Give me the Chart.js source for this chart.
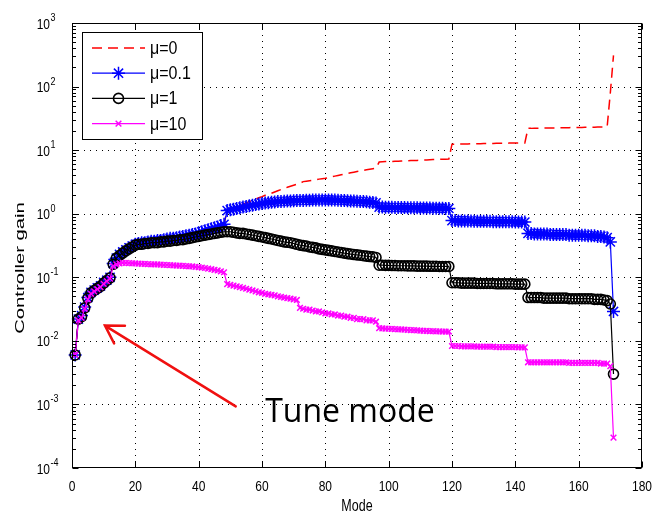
<!DOCTYPE html>
<html>
<head>
<meta charset="utf-8">
<script src="https://cdn.jsdelivr.net/npm/chart.js@4/dist/chart.umd.min.js"></script>
<style>
  html, body { margin: 0; padding: 0; background: #fff; }
</style>
</head>
<body>
<canvas id="gainChart" width="654" height="513"></canvas>
<script>
// controller gain per mode (mode 1..171) for each weighting mu
const gainMu0 = [
  0.006, 0.022, 0.025, 0.034, 0.048, 0.058, 0.063, 0.068, 0.073, 0.083, 0.09, 0.1,
  0.165, 0.2, 0.23, 0.25, 0.27, 0.29, 0.31, 0.33,
  0.34, 0.35, 0.35, 0.36, 0.37, 0.37, 0.38, 0.38, 0.39, 0.40,
  0.41, 0.41, 0.42, 0.43, 0.44, 0.45, 0.46, 0.47, 0.48, 0.50,
  0.52, 0.54, 0.56, 0.58, 0.60, 0.62, 0.65, 0.68,
  1.15, 1.2, 1.25, 1.3, 1.36, 1.42, 1.48, 1.55, 1.62, 1.7, 1.78, 1.86,
  1.95, 2.0, 2.1, 2.2, 2.3, 2.4, 2.5, 2.6, 2.7, 2.8,
  2.9, 3.0, 3.2, 3.25, 3.3, 3.35, 3.4, 3.5, 3.55, 3.6,
  3.7, 3.8, 3.9, 4.0, 4.1, 4.2, 4.3, 4.4, 4.5, 4.6,
  4.7, 4.8, 4.9, 5.0, 5.1, 5.2,
  6.5, 6.55, 6.6, 6.6, 6.65, 6.7, 6.7, 6.75, 6.8, 6.8, 6.85, 6.9, 6.9, 6.95, 7.0, 7.0, 7.05, 7.1, 7.1, 7.15, 7.2, 7.2, 7.25,
  12.4, 12.4, 12.5, 12.5, 12.5, 12.5, 12.6, 12.6, 12.6, 12.6, 12.7, 12.7, 12.7, 12.7, 12.8, 12.8, 12.8, 12.8, 12.9, 12.9, 12.9, 12.9, 13.0, 13.0,
  22.0, 22.0, 22.1, 22.1, 22.2, 22.2, 22.3, 22.3, 22.4, 22.4, 22.5, 22.5, 22.6, 22.6, 22.7, 22.7, 22.8, 22.8, 22.9, 22.9, 23.0, 23.0, 23.1, 23.1, 23.2, 23.3,
  80, 310
];
const gainMu01 = [
  0.006, 0.022, 0.025, 0.034, 0.048, 0.058, 0.063, 0.068, 0.073, 0.083, 0.09, 0.1,
  0.165, 0.2, 0.23, 0.25, 0.27, 0.29, 0.31, 0.33,
  0.34, 0.35, 0.35, 0.36, 0.37, 0.37, 0.38, 0.38, 0.39, 0.40,
  0.41, 0.41, 0.42, 0.43, 0.44, 0.45, 0.46, 0.47, 0.48, 0.50,
  0.52, 0.54, 0.56, 0.58, 0.60, 0.62, 0.65, 0.68,
  1.12, 1.15, 1.18, 1.21, 1.24, 1.27, 1.30, 1.33, 1.36, 1.39, 1.42, 1.45,
  1.47, 1.49, 1.51, 1.53, 1.55, 1.56, 1.57, 1.58, 1.59, 1.60,
  1.61, 1.62, 1.62, 1.63, 1.63, 1.64, 1.64, 1.65, 1.65, 1.65,
  1.65, 1.64, 1.64, 1.63, 1.62, 1.61, 1.60, 1.59, 1.58, 1.57,
  1.56, 1.55, 1.54, 1.52, 1.50, 1.48,
  1.27, 1.27, 1.26, 1.26, 1.26, 1.25, 1.25, 1.25, 1.25, 1.24, 1.24, 1.24, 1.24, 1.23, 1.23, 1.23, 1.23, 1.22, 1.22, 1.22, 1.22, 1.21, 1.21,
  0.78, 0.78, 0.77, 0.77, 0.77, 0.77, 0.77, 0.76, 0.76, 0.76, 0.76, 0.76, 0.76, 0.75, 0.75, 0.75, 0.75, 0.75, 0.75, 0.75, 0.74, 0.74, 0.74, 0.74,
  0.49, 0.49, 0.48, 0.48, 0.48, 0.48, 0.48, 0.47, 0.47, 0.47, 0.47, 0.47, 0.47, 0.46, 0.46, 0.46, 0.46, 0.46, 0.46, 0.45, 0.45, 0.45, 0.44, 0.44, 0.43, 0.42,
  0.36, 0.029
];
const gainMu1 = [
  0.006, 0.022, 0.024, 0.033, 0.047, 0.057, 0.062, 0.067, 0.072, 0.081, 0.089, 0.098,
  0.16, 0.2, 0.22, 0.24, 0.26, 0.28, 0.30, 0.32,
  0.33, 0.33, 0.34, 0.34, 0.35, 0.35, 0.35, 0.36, 0.36, 0.37,
  0.37, 0.38, 0.38, 0.39, 0.39, 0.40, 0.41, 0.42, 0.43, 0.44,
  0.45, 0.46, 0.47, 0.48, 0.49, 0.50, 0.51, 0.52,
  0.52, 0.52, 0.51, 0.50, 0.49, 0.49, 0.48, 0.47, 0.46, 0.45, 0.44, 0.43,
  0.42, 0.41, 0.40, 0.39, 0.38, 0.37, 0.36, 0.355, 0.35, 0.34,
  0.33, 0.32, 0.315, 0.31, 0.30, 0.295, 0.29, 0.28, 0.275, 0.27,
  0.265, 0.26, 0.255, 0.25, 0.245, 0.24, 0.236, 0.232, 0.228, 0.225,
  0.222, 0.218, 0.215, 0.212, 0.21, 0.205,
  0.155, 0.155, 0.154, 0.154, 0.153, 0.153, 0.152, 0.152, 0.152, 0.151, 0.151, 0.151, 0.150, 0.150, 0.150, 0.150, 0.149, 0.149, 0.149, 0.148, 0.148, 0.148, 0.148,
  0.082, 0.082, 0.082, 0.081, 0.081, 0.081, 0.081, 0.081, 0.080, 0.080, 0.080, 0.080, 0.080, 0.080, 0.079, 0.079, 0.079, 0.079, 0.079, 0.079, 0.078, 0.078, 0.078, 0.078,
  0.048, 0.048, 0.048, 0.048, 0.048, 0.047, 0.047, 0.047, 0.047, 0.047, 0.047, 0.047, 0.047, 0.046, 0.046, 0.046, 0.046, 0.046, 0.046, 0.046, 0.046, 0.045, 0.045, 0.045, 0.044, 0.043,
  0.038, 0.003
];
const gainMu10 = [
  0.006, 0.021, 0.023, 0.032, 0.045, 0.055, 0.06, 0.065, 0.07, 0.079, 0.087, 0.095,
  0.15, 0.16, 0.165, 0.168, 0.168, 0.167, 0.166, 0.165,
  0.164, 0.163, 0.162, 0.161, 0.16, 0.16, 0.159, 0.158, 0.157, 0.156,
  0.155, 0.154, 0.153, 0.152, 0.151, 0.15, 0.149, 0.148, 0.146, 0.144,
  0.142, 0.14, 0.137, 0.134, 0.131, 0.128, 0.124, 0.12,
  0.078, 0.076, 0.074, 0.072, 0.07, 0.068, 0.066, 0.064, 0.062, 0.06, 0.058, 0.057,
  0.055, 0.054, 0.053, 0.052, 0.05, 0.049, 0.048, 0.047, 0.046, 0.045, 0.044,
  0.033, 0.032, 0.031, 0.031, 0.030, 0.029, 0.029, 0.028, 0.027,
  0.027, 0.026, 0.026, 0.025, 0.025, 0.024, 0.024, 0.023, 0.023, 0.022,
  0.022, 0.022, 0.021, 0.021, 0.021, 0.020,
  0.0158, 0.0157, 0.0156, 0.0155, 0.0154, 0.0153, 0.0152, 0.0151, 0.015, 0.0149, 0.0148, 0.0147, 0.0146, 0.0145, 0.0144, 0.0143, 0.0142, 0.0142, 0.0141, 0.0141, 0.014, 0.014, 0.014,
  0.0083, 0.0083, 0.0083, 0.0082, 0.0082, 0.0082, 0.0082, 0.0082, 0.0081, 0.0081, 0.0081, 0.0081, 0.0081, 0.0081, 0.008, 0.008, 0.008, 0.008, 0.008, 0.008, 0.008, 0.0079, 0.0079, 0.0079,
  0.0046, 0.0046, 0.0046, 0.0046, 0.0046, 0.0046, 0.0046, 0.0046, 0.0046, 0.0046, 0.0046, 0.0046, 0.0046, 0.0045, 0.0045, 0.0045, 0.0045, 0.0045, 0.0045, 0.0045, 0.0045, 0.0045, 0.0045, 0.0044, 0.0044, 0.0044,
  0.004, 0.0003
];

const seriesLabels = ['\u03bc=0', '\u03bc=0.1', '\u03bc=1', '\u03bc=10'];
const xTicks = [0, 20, 40, 60, 80, 100, 120, 140, 160, 180];
const yDecades = [-4, -3, -2, -1, 0, 1, 2, 3];

// "Tune mode" note, in data units (mode, gain)
const tuneArrowTail = [51.7, 9.3e-4];
const tuneArrowTip = [10.4, 0.0174];
const tuneTextAt = [61, 5.3e-4];

const AXIS_FONT = '"Liberation Sans", Arial, sans-serif';

function toPoints(values) {
  return values.map((v, i) => ({ x: i + 1, y: v }));
}

// text squashed/stretched the way the exported figure renders it
function putText(ctx, str, x, y, size, opts) {
  const o = Object.assign({ sx: 1, sy: 1.3, align: 'left', rot: 0, family: AXIS_FONT }, opts);
  ctx.save();
  ctx.translate(x, y);
  if (o.rot) ctx.rotate(o.rot);
  ctx.scale(o.sx, o.sy);
  ctx.font = size + 'px ' + o.family;
  ctx.textAlign = o.align;
  ctx.textBaseline = 'alphabetic';
  ctx.fillText(str, 0, 0);
  ctx.restore();
}

function drawMarker(ctx, style, x, y, r, color, width) {
  ctx.save();
  ctx.strokeStyle = color;
  ctx.lineWidth = width;
  ctx.setLineDash([]);
  ctx.beginPath();
  if (style === 'circle') {
    ctx.arc(x, y, r, 0, Math.PI * 2);
  } else if (style === 'star') {
    ctx.moveTo(x - r, y); ctx.lineTo(x + r, y);
    ctx.moveTo(x, y - r); ctx.lineTo(x, y + r);
    const d = r * 0.7071;
    ctx.moveTo(x - d, y - d); ctx.lineTo(x + d, y + d);
    ctx.moveTo(x - d, y + d); ctx.lineTo(x + d, y - d);
  } else if (style === 'crossRot') {
    const d = r * 0.7071;
    ctx.moveTo(x - d, y - d); ctx.lineTo(x + d, y + d);
    ctx.moveTo(x - d, y + d); ctx.lineTo(x + d, y - d);
  }
  ctx.stroke();
  ctx.restore();
}

const matlabAxes = {
  id: 'matlabAxes',
  beforeDatasetsDraw(chart) {
    const { ctx, chartArea: a, scales: { x, y } } = chart;
    ctx.save();
    ctx.strokeStyle = '#000';
    ctx.lineWidth = 1;
    ctx.setLineDash([1, 5]);
    xTicks.slice(1, -1).forEach(v => {
      const px = Math.round(x.getPixelForValue(v)) + 0.5;
      ctx.beginPath();
      ctx.moveTo(px, a.top);
      ctx.lineTo(px, a.bottom);
      ctx.stroke();
    });
    yDecades.slice(1, -1).forEach(e => {
      const py = Math.round(y.getPixelForValue(Math.pow(10, e))) + 0.5;
      ctx.beginPath();
      ctx.moveTo(a.left, py);
      ctx.lineTo(a.right, py);
      ctx.stroke();
    });
    ctx.restore();
  },
  afterDatasetsDraw(chart) {
    const { ctx, chartArea: a, scales: { x, y } } = chart;
    ctx.save();
    ctx.strokeStyle = '#000';
    ctx.fillStyle = '#000';
    ctx.lineWidth = 1;
    ctx.setLineDash([]);

    // box
    const L = Math.round(a.left) + 0.5, R = Math.round(a.right) - 0.5;
    const T = Math.round(a.top) + 0.5, B = Math.round(a.bottom) - 0.5;
    ctx.strokeRect(L, T, R - L, B - T);

    // ticks pointing inward
    ctx.beginPath();
    xTicks.forEach(v => {
      const px = Math.round(x.getPixelForValue(v)) + 0.5;
      ctx.moveTo(px, B); ctx.lineTo(px, B - 6);
      ctx.moveTo(px, T); ctx.lineTo(px, T + 6);
    });
    yDecades.forEach((e, i) => {
      const py = Math.round(y.getPixelForValue(Math.pow(10, e))) + 0.5;
      ctx.moveTo(L, py); ctx.lineTo(L + 6, py);
      ctx.moveTo(R, py); ctx.lineTo(R - 6, py);
      if (i < yDecades.length - 1) {
        for (let m = 2; m <= 9; m++) {
          const pm = Math.round(y.getPixelForValue(m * Math.pow(10, e))) + 0.5;
          ctx.moveTo(L, pm); ctx.lineTo(L + 3.5, pm);
          ctx.moveTo(R, pm); ctx.lineTo(R - 3.5, pm);
        }
      }
    });
    ctx.stroke();

    // tick labels
    xTicks.forEach(v => {
      putText(ctx, String(v), x.getPixelForValue(v), a.bottom + 22.5, 12, { align: 'center', sy: 1.25 });
    });
    yDecades.forEach(e => {
      const py = y.getPixelForValue(Math.pow(10, e));
      putText(ctx, '10', 50, py + 5.5, 12, { align: 'right', sy: 1.25 });
      putText(ctx, String(e), 50.5, py - 2, 9, { align: 'left', sy: 1.25 });
    });

    // axis titles
    putText(ctx, 'Mode', (a.left + a.right) / 2, a.bottom + 43, 12.5, { align: 'center', sy: 1.35 });
    putText(ctx, 'Controller gain', 23.5, 268, 13.5, { align: 'center', rot: -Math.PI / 2, sx: 1.5, sy: 0.95 });

    // legend
    const lx = 82.5, ly = 32.5, lw = 120, lh = 107;
    ctx.fillStyle = '#fff';
    ctx.fillRect(lx, ly, lw, lh);
    ctx.strokeStyle = '#000';
    ctx.strokeRect(lx, ly, lw, lh);
    chart.data.datasets.forEach((ds, i) => {
      const ry = 48 + i * 25.2;
      ctx.save();
      ctx.strokeStyle = ds.borderColor;
      ctx.lineWidth = ds.borderWidth;
      ctx.setLineDash(ds.borderDash || []);
      ctx.beginPath();
      ctx.moveTo(92, ry);
      ctx.lineTo(145, ry);
      ctx.stroke();
      ctx.restore();
      if (ds.pointRadius > 0) {
        drawMarker(ctx, ds.pointStyle, 118.5, ry, ds.pointRadius, ds.borderColor, ds.pointBorderWidth);
      }
      ctx.fillStyle = '#000';
      putText(ctx, ds.label, 150, ry + 6, 16, { sy: 1.12 });
    });

    // tune-mode arrow and note
    const tx = x.getPixelForValue(tuneArrowTail[0]), ty = y.getPixelForValue(tuneArrowTail[1]);
    const hx = x.getPixelForValue(tuneArrowTip[0]), hy = y.getPixelForValue(tuneArrowTip[1]);
    const back = Math.atan2(ty - hy, tx - hx);
    const arm = 20, spread = 0.54;
    ctx.strokeStyle = '#f01010';
    ctx.lineWidth = 2.5;
    ctx.lineCap = 'round';
    ctx.beginPath();
    ctx.moveTo(tx, ty);
    ctx.lineTo(hx, hy);
    ctx.moveTo(hx + arm * Math.cos(back - spread), hy + arm * Math.sin(back - spread));
    ctx.lineTo(hx, hy);
    ctx.lineTo(hx + arm * Math.cos(back + spread), hy + arm * Math.sin(back + spread));
    ctx.stroke();

    ctx.fillStyle = '#000';
    putText(ctx, 'Tune mode', x.getPixelForValue(tuneTextAt[0]), y.getPixelForValue(tuneTextAt[1]), 32,
      { sy: 1, family: '"Open Sans", "Noto Sans", sans-serif' });
    ctx.restore();
  }
};

new Chart(document.getElementById('gainChart'), {
  type: 'line',
  data: {
    datasets: [
      {
        label: seriesLabels[0],
        data: toPoints(gainMu0),
        borderColor: '#ff0000',
        borderWidth: 1.5,
        borderDash: [10, 6],
        pointRadius: 0,
        order: 3
      },
      {
        label: seriesLabels[1],
        data: toPoints(gainMu01),
        borderColor: '#0000ff',
        borderWidth: 1.2,
        pointStyle: 'star',
        pointRadius: 6.5,
        pointBorderWidth: 1.5,
        pointBorderColor: '#0000ff',
        order: 2
      },
      {
        label: seriesLabels[2],
        data: toPoints(gainMu1),
        borderColor: '#000000',
        borderWidth: 1.2,
        pointStyle: 'circle',
        pointRadius: 5,
        pointBorderWidth: 1.6,
        pointBorderColor: '#000000',
        pointBackgroundColor: 'rgba(0,0,0,0)',
        order: 1
      },
      {
        label: seriesLabels[3],
        data: toPoints(gainMu10),
        borderColor: '#ff00ff',
        borderWidth: 1.2,
        pointStyle: 'crossRot',
        pointRadius: 4,
        pointBorderWidth: 1.5,
        pointBorderColor: '#ff00ff',
        order: 0
      }
    ]
  },
  options: {
    responsive: false,
    animation: false,
    devicePixelRatio: 1,
    events: [],
    layout: { padding: { top: 23, right: 12, left: 0, bottom: 0 } },
    elements: { line: { tension: 0 } },
    datasets: { line: { clip: false } },
    plugins: {
      legend: { display: false },
      tooltip: { enabled: false }
    },
    scales: {
      x: {
        type: 'linear',
        min: 0,
        max: 180,
        ticks: { display: false, stepSize: 20 },
        grid: { display: false },
        border: { display: false },
        afterFit: s => { s.height = 45; }
      },
      y: {
        type: 'logarithmic',
        min: 1e-4,
        max: 1e3,
        ticks: { display: false },
        grid: { display: false },
        border: { display: false },
        afterFit: s => { s.width = 72; }
      }
    }
  },
  plugins: [matlabAxes]
});
</script>
</body>
</html>
